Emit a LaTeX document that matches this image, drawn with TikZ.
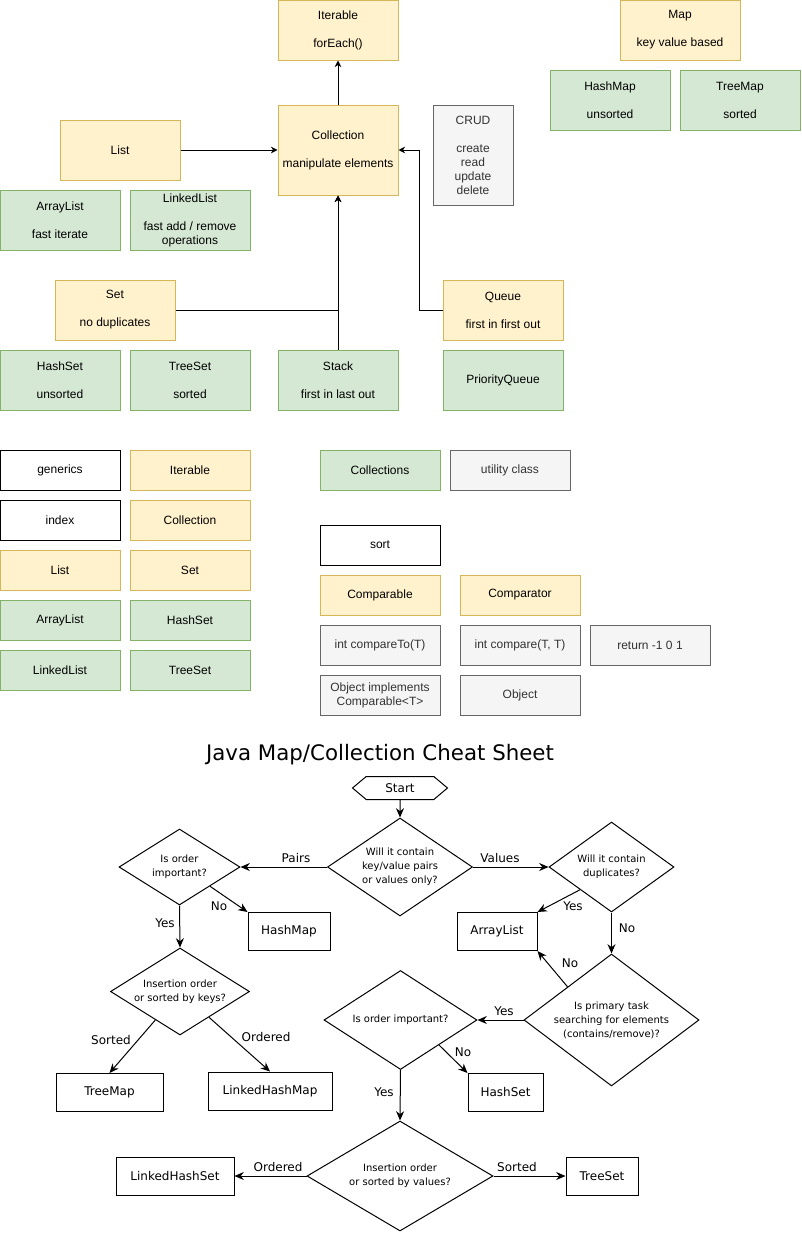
\documentclass[tikz,border=0pt]{standalone}
\usepackage{fontspec}
\setmainfont{Liberation Sans}
\newfontfamily\flowfont{DejaVu Sans}
\usetikzlibrary{arrows.meta,shapes.geometric,shapes.symbols}
\definecolor{ifacefill}{HTML}{FFF2CC}
\definecolor{ifacedraw}{HTML}{D6B656}
\definecolor{implfill}{HTML}{D5E8D4}
\definecolor{impldraw}{HTML}{82B366}
\definecolor{notefill}{HTML}{F5F5F5}
\definecolor{notedraw}{HTML}{666666}
\definecolor{notetext}{HTML}{333333}
\tikzset{
  basebox/.style={draw, line width=0.75pt, minimum width=90pt, minimum height=45pt,
    inner sep=0pt, align=center, font=\fontsize{9}{10.5}\selectfont},
  ifacebox/.style={basebox, fill=ifacefill, draw=ifacedraw},
  implbox/.style={basebox, fill=implfill, draw=impldraw},
  notebox/.style={basebox, fill=notefill, draw=notedraw, text=notetext},
  plainbox/.style={basebox, fill=white, draw=black},
  lowbox/.style={minimum height=30pt},
  arrw/.style={-{Stealth[length=5pt,width=5pt]}, line width=0.75pt},
  fcbox/.style={draw, line width=0.75pt, minimum height=28.5pt, inner sep=0pt,
    font=\flowfont\fontsize{9}{11}\selectfont},
  fcdiamond/.style={draw, diamond, aspect=1.5, line width=0.75pt, inner sep=0pt,
    align=center, font=\flowfont\fontsize{7.5}{10.5}\selectfont},
  fcstart/.style={draw, signal, signal to=west and east, signal pointer angle=80,
    line width=0.75pt, inner sep=0pt, minimum width=71.25pt, minimum height=17.25pt,
    font=\flowfont\fontsize{9}{11}\selectfont},
  fclabel/.style={inner sep=0pt, font=\flowfont\fontsize{9}{11}\selectfont},
  farrw/.style={-{Stealth[length=7pt,width=6pt]}, line width=0.75pt},
}
\begin{document}
\begin{tikzpicture}[x=0.75pt, y=-0.75pt]
  \useasboundingbox (0,0) rectangle (802,1235);

  \node[ifacebox] (iterable) at (338,30) {Iterable\\[10.5pt]forEach()};
  \node[ifacebox, minimum height=67.5pt] (collection) at (338,150)
    {Collection\\[10.5pt]manipulate elements};
  \node[notebox, minimum width=60pt, minimum height=75pt] (crud) at (473,155)
    {CRUD\\[10.5pt]create\\read\\update\\delete};
  \node[ifacebox] (map) at (680,30) {Map\\[10.5pt]key value based};
  \node[implbox] (hashmap) at (610,100) {HashMap\\[10.5pt]unsorted};
  \node[implbox] (treemap) at (740,100) {TreeMap\\[10.5pt]sorted};

  \node[ifacebox] (list) at (120,150) {List};
  \node[implbox] (arraylist) at (60,220) {ArrayList\\[10.5pt]fast iterate};
  \node[implbox] (linkedlist) at (190,220)
    {LinkedList\\[10.5pt]fast add / remove\\operations};

  \node[ifacebox] (set) at (115,310) {Set\\[10.5pt]no duplicates};
  \node[implbox] (hashset) at (60,380) {HashSet\\[10.5pt]unsorted};
  \node[implbox] (treeset) at (190,380) {TreeSet\\[10.5pt]sorted};
  \node[implbox] (stack) at (338,380) {Stack\\[10.5pt]first in last out};
  \node[ifacebox] (queue) at (503,310) {Queue\\[10.5pt]first in first out};
  \node[implbox] (prioqueue) at (503,380) {PriorityQueue};

  \draw[arrw] (collection) -- (iterable);
  \draw[arrw] (list) -- (collection);
  \draw[arrw] (set.east) -| (collection.south);
  \draw[arrw] (stack) -- (collection);
  \draw[arrw] (queue.west) -- ++(-23,0) |- (collection.east);

  \node[plainbox, lowbox] (generics) at (60,470) {generics};
  \node[ifacebox, lowbox] (iterkey) at (190,470) {Iterable};
  \node[plainbox, lowbox] (index) at (60,520) {index};
  \node[ifacebox, lowbox] (collkey) at (190,520) {Collection};
  \node[ifacebox, lowbox] (listkey) at (60,570) {List};
  \node[ifacebox, lowbox] (setkey) at (190,570) {Set};
  \node[implbox, lowbox] (arraykey) at (60,620) {ArrayList};
  \node[implbox, lowbox] (hashkey) at (190,620) {HashSet};
  \node[implbox, lowbox] (linkedkey) at (60,670) {LinkedList};
  \node[implbox, lowbox] (treekey) at (190,670) {TreeSet};

  \node[implbox, lowbox] (collections) at (380,470) {Collections};
  \node[notebox, lowbox] (utility) at (510,470) {utility class};
  \node[plainbox, lowbox] (sort) at (380,545) {sort};
  \node[ifacebox, lowbox] (comparable) at (380,595) {Comparable};
  \node[ifacebox, lowbox] (comparator) at (520,595) {Comparator};
  \node[notebox, lowbox] (compareto) at (380,645) {int compareTo(T)};
  \node[notebox, lowbox] (compare) at (520,645) {int compare(T, T)};
  \node[notebox, lowbox] (retval) at (650,645) {return -1 0 1};
  \node[notebox, lowbox] (objimpl) at (380,695) {Object implements\\Comparable<T>};
  \node[notebox, lowbox] (object) at (520,695) {Object};

  \node[font=\flowfont\fontsize{16}{19}\selectfont] (title) at (380,755)
    {Java Map/Collection Cheat Sheet};

  \node[fcstart] (start) at (400,788) {Start};
  \node[fcdiamond, minimum width=108.75pt, minimum height=73.5pt] (qmain) at (400,867)
    {Will it contain\\key/value pairs\\or values only?};
  \node[fcdiamond, minimum width=90.75pt, minimum height=57pt] (qorder) at (179.5,867)
    {Is order\\important?};
  \node[fcdiamond, minimum width=93.75pt, minimum height=67.5pt] (qdup) at (611.5,867)
    {Will it contain\\duplicates?};
  \node[fcbox, minimum width=61.5pt] (fchashmap) at (289,931.5) {HashMap};
  \node[fcbox, minimum width=60pt] (fcarraylist) at (497,931.5) {ArrayList};
  \node[fcdiamond, minimum width=104.25pt, minimum height=65.25pt] (qkeys) at (180,991.5)
    {Insertion order\\or sorted by keys?};
  \node[fcdiamond, minimum width=131.25pt, minimum height=99pt] (qtask) at (611.5,1020)
    {Is primary task\\searching for elements\\(contains/remove)?};
  \node[fcdiamond, minimum width=114.75pt, minimum height=74.25pt] (qorderset) at (400.5,1020)
    {Is order important?};
  \node[fcbox, minimum width=80.25pt] (fctreemap) at (109.5,1092.5) {TreeMap};
  \node[fcbox, minimum width=93pt] (fclhmap) at (270,1091) {LinkedHashMap};
  \node[fcbox, minimum width=56.25pt] (fchashset) at (505.5,1092.5) {HashSet};
  \node[fcdiamond, minimum width=139.5pt, minimum height=82.5pt] (qvals) at (400,1176)
    {Insertion order\\or sorted by values?};
  \node[fcbox, minimum width=88.5pt] (fclhset) at (175,1176) {LinkedHashSet};
  \node[fcbox, minimum width=54pt] (fctreeset) at (602,1176) {TreeSet};

  \draw[farrw] (start) -- (qmain);
  \draw[farrw] (qmain.west) -- (qorder.east);
  \draw[farrw] (qmain.east) -- (qdup.west);
  \draw[farrw] (qorder.south east) -- (fchashmap.north west);
  \draw[farrw] (qorder.south) -- (qkeys.north);
  \draw[farrw] (qkeys) -- (fctreemap.north);
  \draw[farrw] (qkeys) -- (fclhmap.north);
  \draw[farrw] (qdup.south west) -- (fcarraylist.north east);
  \draw[farrw] (qdup.south) -- (qtask.north);
  \draw[farrw] (qtask.north west) -- (fcarraylist.south east);
  \draw[farrw] (qtask.west) -- (qorderset.east);
  \draw[farrw] (qorderset.south east) -- (fchashset.north west);
  \draw[farrw] (qorderset.south) -- (qvals.north);
  \draw[farrw] (qvals.west) -- (fclhset.east);
  \draw[farrw] (qvals.east) -- (fctreeset.west);

  \node[fclabel] (lpairs) at (296,858) {Pairs};
  \node[fclabel] (lvalues) at (500,858) {Values};
  \node[fclabel] (lnomap) at (219,906) {No};
  \node[fclabel] (lyesorder) at (165,923) {Yes};
  \node[fclabel] (lyesdup) at (573,906) {Yes};
  \node[fclabel] (lnodup) at (627,928) {No};
  \node[fclabel] (lsortkeys) at (111,1040) {Sorted};
  \node[fclabel] (lordkeys) at (266,1037) {Ordered};
  \node[fclabel] (lnotask) at (570,963) {No};
  \node[fclabel] (lyestask) at (504,1011) {Yes};
  \node[fclabel] (lnoset) at (463,1052) {No};
  \node[fclabel] (lyesset) at (384,1092) {Yes};
  \node[fclabel] (lordvals) at (278,1167) {Ordered};
  \node[fclabel] (lsortvals) at (517,1167) {Sorted};
\end{tikzpicture}
\end{document}
